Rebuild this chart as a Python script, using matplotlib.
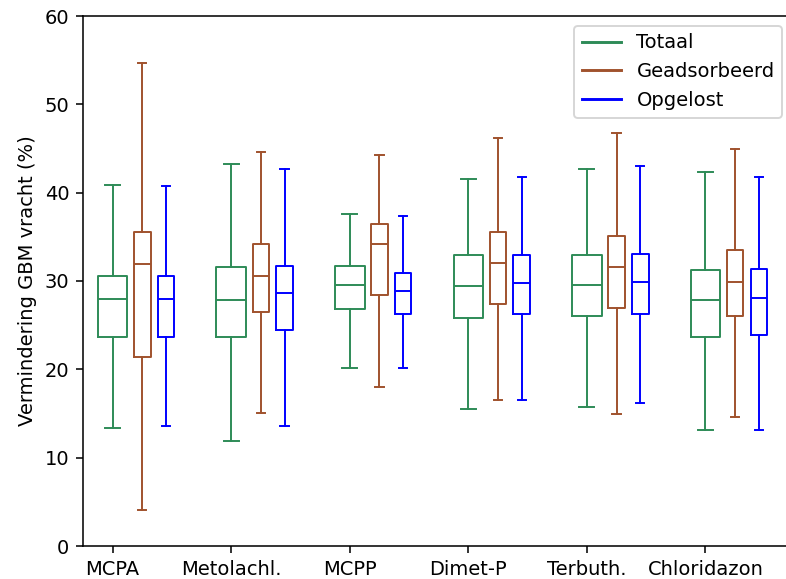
import numpy as np
import matplotlib
matplotlib.use("Agg")
import matplotlib.pyplot as plt
from matplotlib.lines import Line2D

stoffen = ["MCPA", "Metolachl.", "MCPP", "Dimet-P", "Terbuth.", "Chloridazon"]
reeksen = ["Totaal", "Geadsorbeerd", "Opgelost"]
kleuren = ["seagreen", "sienna", "blue"]

# per stof: whisker laag, Q1, mediaan, Q3, whisker hoog
totaal = [
    [13.4, 23.7, 28.0, 30.6, 40.9],
    [11.9, 23.7, 27.8, 31.6, 43.2],
    [20.1, 26.8, 29.6, 31.7, 37.6],
    [15.5, 25.8, 29.4, 32.9, 41.6],
    [15.7, 26.0, 29.6, 32.9, 42.7],
    [13.1, 23.7, 27.8, 31.2, 42.3],
]
geadsorbeerd = [
    [4.1, 21.4, 31.9, 35.5, 54.7],
    [15.1, 26.5, 30.6, 34.2, 44.6],
    [18.0, 28.4, 34.2, 36.4, 44.3],
    [16.5, 27.4, 32.0, 35.5, 46.2],
    [14.9, 27.0, 31.6, 35.1, 46.8],
    [14.6, 26.0, 29.9, 33.5, 45.0],
]
opgelost = [
    [13.6, 23.7, 28.0, 30.6, 40.7],
    [13.6, 24.4, 28.6, 31.7, 42.7],
    [20.1, 26.3, 28.9, 30.9, 37.4],
    [16.5, 26.3, 29.8, 33.0, 41.8],
    [16.2, 26.3, 29.9, 33.1, 43.0],
    [13.1, 23.9, 28.1, 31.4, 41.8],
]

def make_stats(rows):
    stats = []
    for lo, q1, med, q3, hi in rows:
        stats.append(dict(whislo=lo, q1=q1, med=med, q3=q3, whishi=hi, fliers=[]))
    return stats

dpi = 140
fig = plt.figure(figsize=(786 / dpi, 579 / dpi), dpi=dpi)
# rechterkant valt net buiten het plaatje, zoals in het origineel
ax = fig.add_axes([83 / 786, 33 / 579, 709 / 786, 530 / 579])

pos = np.arange(1, len(stoffen) + 1)
offsets = [0.0, 0.25, 0.45]
widths = [0.25, 0.14, 0.14]
for data, kleur, off, w in zip([totaal, geadsorbeerd, opgelost], kleuren, offsets, widths):
    props = dict(color=kleur)
    ax.bxp(make_stats(data), positions=pos + off, widths=w, showfliers=False,
           boxprops=props, whiskerprops=props, capprops=props, medianprops=props,
           manage_ticks=False)

ax.set_xticks(pos)
ax.set_xticklabels(stoffen)
ax.set_xlim(0.75, 6.73)
ax.set_ylim(0, 60)
ax.set_ylabel("Vermindering GBM vracht (%)")

handles = [Line2D([0], [0], color=k) for k in kleuren]
ax.legend(handles, reeksen, loc="upper right")

fig.savefig("out.png", dpi=dpi)
